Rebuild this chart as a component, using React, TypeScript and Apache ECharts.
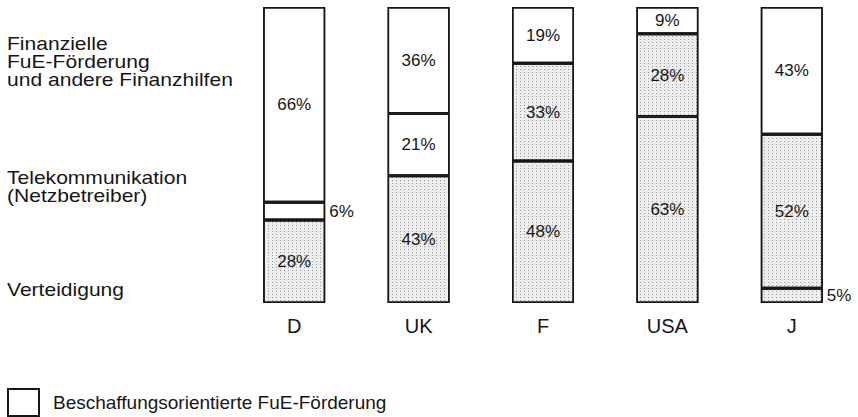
import React, { useEffect, useRef } from "react";
import * as echarts from "echarts";

const categories = ["D", "UK", "F", "USA", "J"];
const verteidigung = [28, 43, 48, 63, 5];
const telekom = [6, 21, 33, 28, 52];
const finanz = [66, 36, 19, 9, 43];
const telekomStippled = [false, false, true, true, true];
const legendName = "Beschaffungsorientierte FuE-Förderung";
const groupLabels = [
  "Finanzielle\nFuE-Förderung\nund andere Finanzhilfen",
  "Telekommunikation\n(Netzbetreiber)",
  "Verteidigung",
];

const FONT = "'Liberation Sans', Arial, Helvetica, sans-serif";
const INK = "#161616";

const stipple = {
  symbol: "rect",
  symbolSize: 1,
  color: "rgba(70,70,70,0.5)",
  dashArrayX: [1, 3],
  dashArrayY: [1, 2],
  rotation: 0,
};

function item(v: number, stippled: boolean) {
  const outside = v <= 6;
  return {
    value: v,
    itemStyle: {
      color: stippled ? "#eeeeee" : "#ffffff",
      borderColor: INK,
      borderWidth: 1.5,
      decal: stippled ? stipple : { symbol: "none" },
    },
    label: outside
      ? { position: "right", distance: 4 }
      : { position: "inside" },
  };
}

export default function App() {
  const ref = useRef<HTMLDivElement>(null);
  useEffect(() => {
    if (!ref.current) return;
    const chart = echarts.init(ref.current, null, { renderer: "svg" });
    const labelCfg = {
      show: true,
      formatter: "{c}%",
      color: INK,
      fontSize: 17,
      fontFamily: FONT,
    };
    const mk = (name: string, vals: number[], st: boolean[]) => ({
      name,
      type: "bar",
      stack: "total",
      barWidth: 62,
      label: labelCfg,
      data: vals.map((v, i) => item(v, st[i])),
    });
    const groupText = (text: string, y: number) => ({
      type: "text",
      x: 7,
      y,
      scaleX: 1.17,
      style: {
        text,
        x: 0,
        y: 0,
        fontSize: 18,
        lineHeight: 18,
        verticalAlign: "top",
        fill: INK,
        fontFamily: FONT,
      },
    });
    chart.setOption({
      animation: false,
      aria: { enabled: false, decal: { show: false } },
      textStyle: { fontFamily: FONT },
      grid: { left: 232, top: 7, width: 622, height: 296, containLabel: false },
      legend: {
        data: [legendName],
        left: 7,
        top: 388,
        padding: 0,
        icon: "rect",
        itemWidth: 31,
        itemHeight: 27,
        textStyle: { fontSize: 19, color: INK, fontFamily: FONT, padding: [0, 0, 0, 9] },
        selectedMode: false,
      },
      xAxis: {
        type: "category",
        data: categories,
        axisLine: { show: false },
        axisTick: { show: false },
        axisLabel: { fontSize: 20, color: INK, margin: 13, fontFamily: FONT },
      },
      yAxis: { type: "value", min: 0, max: 100, show: false },
      graphic: [
        groupText(groupLabels[0], 35),
        groupText(groupLabels[1], 169),
        groupText(groupLabels[2], 281),
      ],
      series: [
        mk("Verteidigung", verteidigung, verteidigung.map(() => true)),
        mk("Telekommunikation", telekom, telekomStippled),
        mk("Finanzielle", finanz, finanz.map(() => false)),
        {
          name: legendName,
          type: "bar",
          stack: "total",
          data: [],
          itemStyle: { color: "#ffffff", borderColor: INK, borderWidth: 1.5 },
        },
      ],
    });
    return () => chart.dispose();
  }, []);
  return (
    <div
      ref={ref}
      style={{ position: "absolute", left: 0, top: 0, width: 858, height: 417, background: "#fff" }}
    />
  );
}
